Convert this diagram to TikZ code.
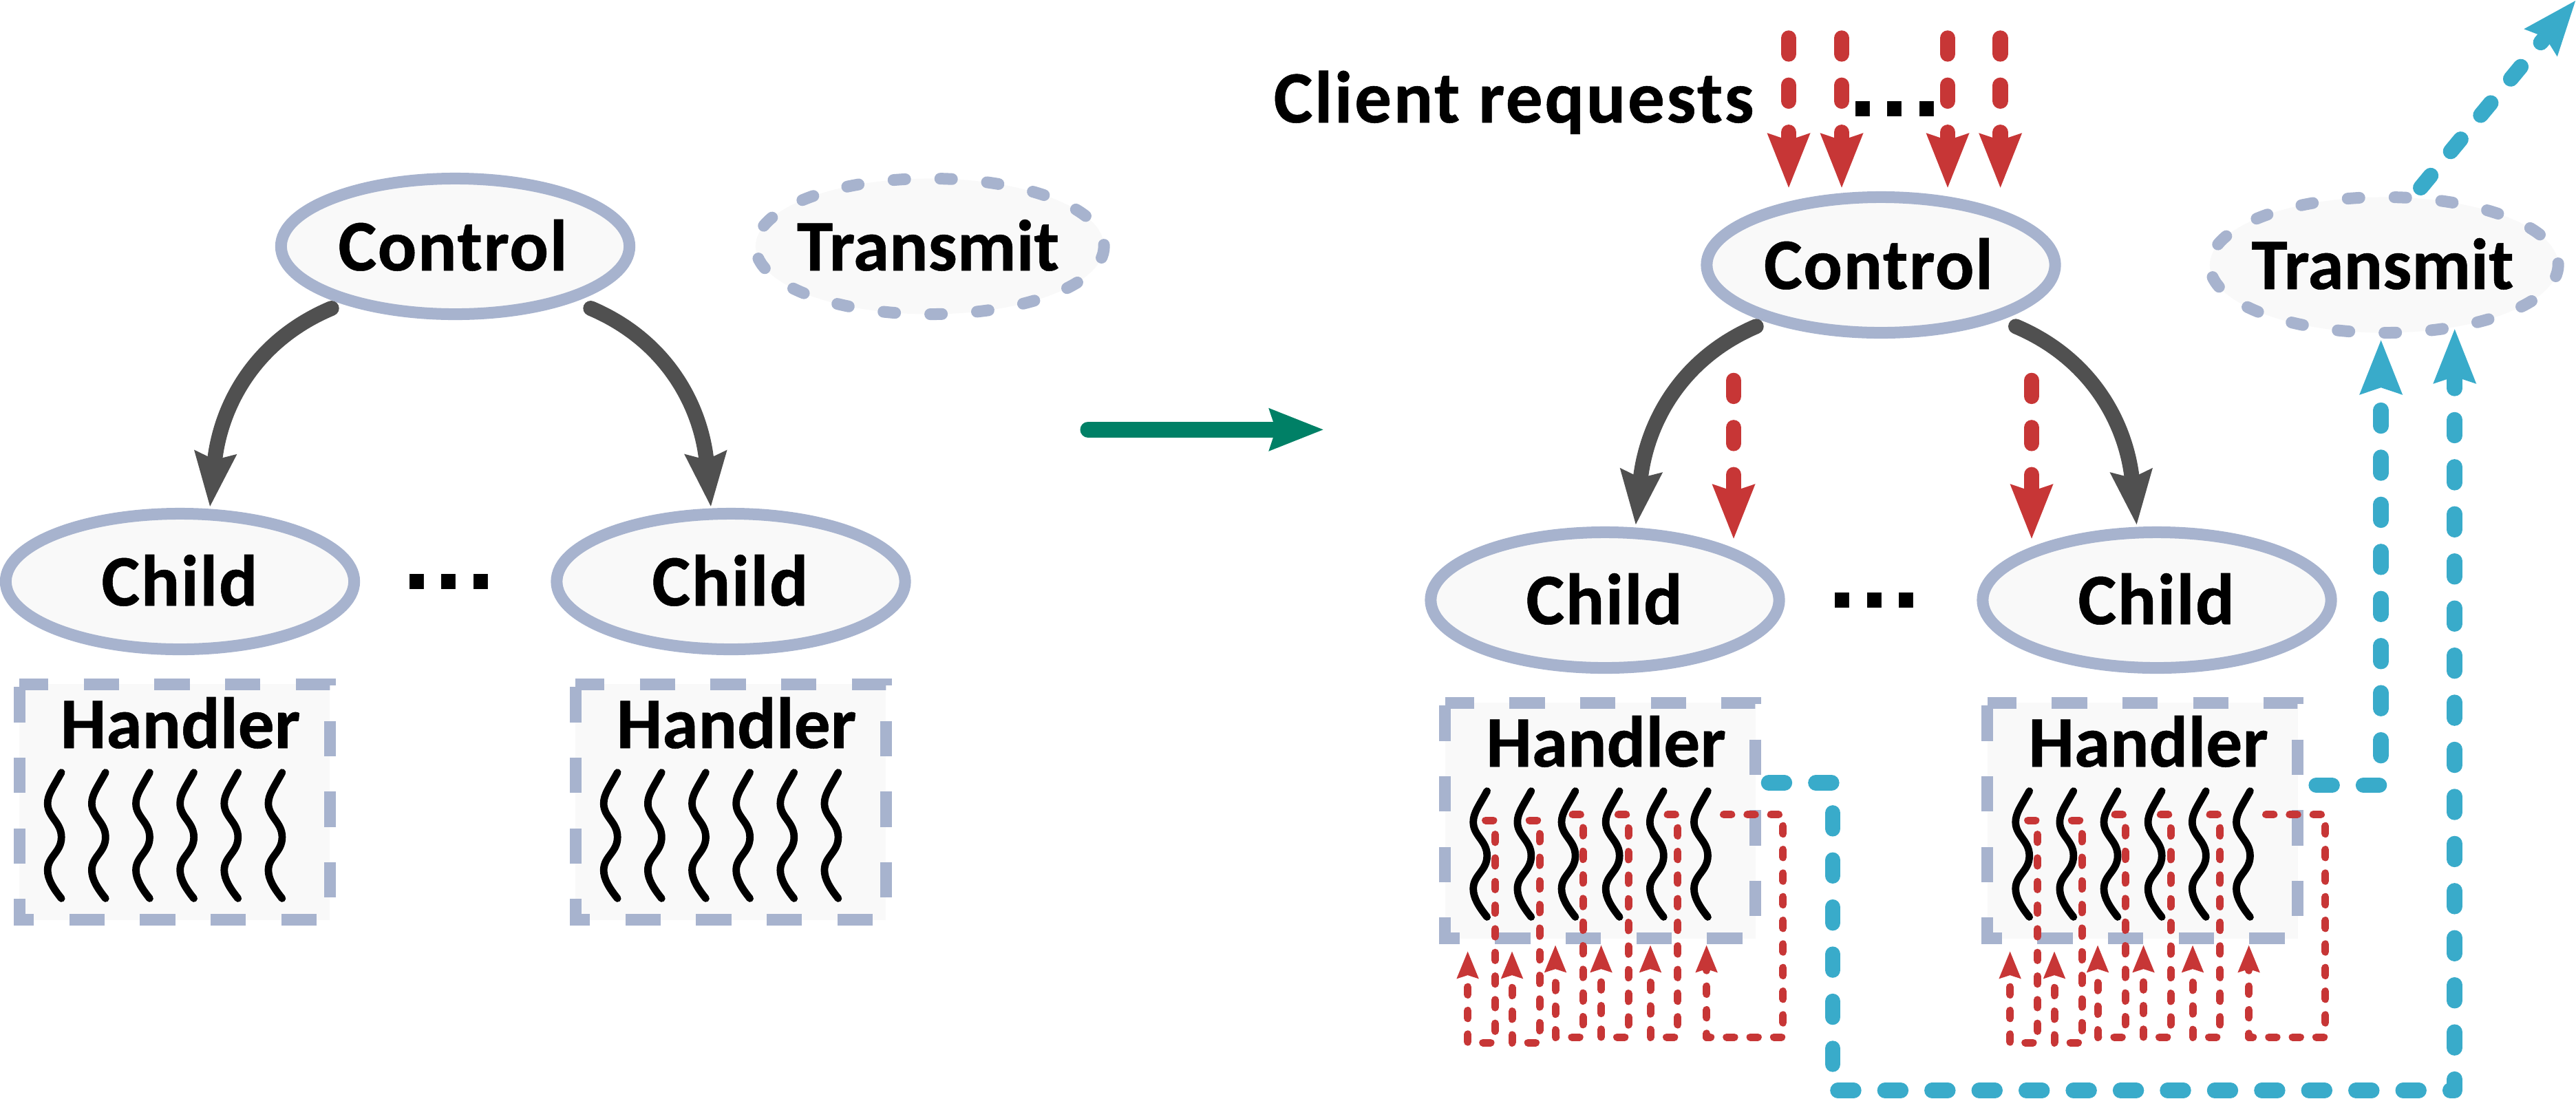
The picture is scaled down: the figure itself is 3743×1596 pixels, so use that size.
\documentclass[tikz,border=0pt]{standalone}
\usepackage{fontspec}
\setmainfont{Carlito}[BoldFeatures={FakeBold=0.5}]
\newfontfamily\dotsfont{Liberation Sans}
\usetikzlibrary{arrows.meta,shapes.geometric}
\definecolor{peri}{HTML}{A7B3CE}
\definecolor{paper}{HTML}{F9F9F9}
\definecolor{redl}{HTML}{C73636}
\definecolor{bluel}{HTML}{39ABCA}
\definecolor{grayl}{HTML}{505050}
\definecolor{greenl}{HTML}{008066}
\tikzset{
  lbl/.style={anchor=base,inner sep=0pt,outer sep=0pt,font=\fontsize{30}{36}\selectfont\bfseries},
  lblwide/.style={lbl,font=\fontsize{30}{36}\selectfont\bfseries\addfontfeature{LetterSpace=1.5}},
  lblclient/.style={lbl,font=\fontsize{30.5}{36}\selectfont\bfseries\addfontfeature{LetterSpace=2.5}},
  dotlbl/.style={anchor=base,inner sep=0pt,outer sep=0pt,font=\fontsize{42}{46}\selectfont\dotsfont\bfseries},
  solidell/.style={shape=ellipse,draw=peri,fill=paper,line width=.17cm,inner sep=0pt,outer sep=0pt,minimum width=5.06cm,minimum height=1.97cm},
  fillell/.style={shape=ellipse,fill=paper,inner sep=0pt,outer sep=0pt,minimum width=5.06cm,minimum height=1.97cm},
  elldash/.style={draw=peri,line width=.17cm,line cap=round,dash pattern=on .17cm off .51cm},
  hbox/.style={shape=rectangle,fill=paper,inner sep=0pt,outer sep=0pt,minimum width=4.505cm,minimum height=3.42cm},
  hdash/.style={draw=peri,line width=.17cm,dash pattern=on .513cm off .513cm,dash phase=.093cm},
  wavy/.style={draw=black,line width=.107cm,line cap=round},
  wavepic/.pic={\draw[wavy] (0,0) .. controls (-12,22) and (-20,32) .. (-20,45) .. controls (-20,65) and (0,72) .. (0,94) .. controls (0,116) and (-20,122) .. (-20,142) .. controls (-20,155) and (-12,168) .. (0,183);},
  grayarrow/.style={draw=grayl,line width=.22cm,line cap=round,-{Stealth[length=.78cm,width=.58cm,inset=.09cm]}},
  greenarrow/.style={draw=greenl,line width=.23cm,line cap=round,-{Stealth[length=.78cm,width=.58cm,inset=.08cm]}},
  redbig/.style={draw=redl,line width=.226cm,line cap=round,dash pattern=on .228cm off .456cm,-{Stealth[length=.78cm,width=.58cm,inset=.08cm]}},
  bluearrow/.style={draw=bluel,line width=.226cm,line cap=round,line join=round,dash pattern=on .228cm off .456cm,-{Stealth[length=.78cm,width=.58cm,inset=.08cm]}},
  redsmall/.style={draw=redl,line width=.11cm,line cap=round,line join=round,dash pattern=on .113cm off .23cm,-{Stealth[length=.39cm,width=.30cm,inset=.04cm]}},
}
\newcommand{\threedots}{.\kern.056cm.\kern.056cm.}
\begin{document}
\begin{tikzpicture}[x=.01cm,y=-.01cm]
\useasboundingbox (0,0) rectangle (3743,1596);

% ---------- left diagram ----------
\node[solidell] (ctlA) at (661.5,358) {};
\node[lblwide] (ctlAt) at (658,393) {Control};
\node[fillell] (trA) at (1351,358) {};
\draw[elldash] (trA.east) arc[start angle=0,end angle=-360,x radius=2.53cm,y radius=.985cm];
\node[lbl] (trAt) at (1348.5,393) {Transmit};
\node[solidell] (chA) at (261.5,845) {};
\node[lblwide] (chAt) at (261,880) {Child};
\node[solidell] (chB) at (1062,845) {};
\node[lblwide] (chBt) at (1061,880) {Child};
\node[dotlbl] (dotsA) at (652.5,856) {\threedots};

% ---------- right diagram ----------
\node[solidell] (ctlB) at (2733,385) {};
\node[lblwide] (ctlBt) at (2729.5,420) {Control};
\node[fillell] (trB) at (3464,385) {};
\draw[elldash] (trB.east) arc[start angle=0,end angle=-360,x radius=2.53cm,y radius=.985cm];
\node[lbl] (trBt) at (3462,420) {Transmit};
\node[solidell] (chC) at (2332,872) {};
\node[lblwide] (chCt) at (2331,907) {Child};
\node[solidell] (chD) at (3134,872) {};
\node[lblwide] (chDt) at (3133,907) {Child};
\node[dotlbl] (dotsB) at (2723.8,883) {\threedots};
\node[dotlbl] (dotsC) at (2753.5,169) {\threedots};
\node[lblclient] (client) at (2199.6,178) {Client requests};

% ---------- handler boxes ----------
\foreach \nm/\bx/\by in {hA/28.5/994.5,hB/836.5/994.5,hC/2100/1021.5,hD/2888/1021.5}{
  \node[hbox] (\nm) at ({\bx+225.25},{\by+171}) {};
  \draw[hdash] (\nm.north west) -- (\nm.north east) -- (\nm.south east) -- (\nm.south west) -- cycle;
  \node[lbl] (\nm t) at ({\bx+233.5},{\by+92.5}) {Handler};
  \foreach \k in {0,...,5}{
    \pic at ({\bx+60.7+64.15*\k},{\by+128}) {wavepic};
  }
}

% ---------- grey arrows ----------
\coordinate (gA1) at (481.7,448);
\coordinate (gA1e) at (305,737);
\coordinate (gA2) at (858.3,448);
\coordinate (gA2e) at (1033,737);
\coordinate (gB1) at (2551.7,474.3);
\coordinate (gB1e) at (2376.7,763.3);
\coordinate (gB2) at (2929,474.3);
\coordinate (gB2e) at (3104.7,763.3);
\draw[grayarrow] (gA1) .. controls (370,495) and (320,590) .. (gA1e);
\draw[grayarrow] (gA2) .. controls (969,495) and (1019,590) .. (gA2e);
\draw[grayarrow] (gB1) .. controls (2441.7,521.3) and (2391.7,616.3) .. (gB1e);
\draw[grayarrow] (gB2) .. controls (3040,521.3) and (3090,616.3) .. (gB2e);

% ---------- green arrow ----------
\coordinate (gs) at (1581,624.3);
\coordinate (ge) at (1924,624.3);
\draw[greenarrow] (gs) -- (ge);

% ---------- large red arrows ----------
\foreach \i/\x/\ya/\yb in {1/2599/55.5/274,2/2676/55.5/274,3/2830/55.5/274,4/2906.6/55.5/274,5/2519/553/784,6/2952/553/784}{
  \coordinate (rs\i) at (\x,\ya);
  \coordinate (re\i) at (\x,\yb);
  \draw[redbig] (rs\i) -- (re\i);
}

% ---------- small red loops ----------
\foreach \bx in {2100,2888}{
  \foreach \a/\b/\c/\yt/\yb/\yh in {58.6/72.4/32.6/1192/1515/1382,122.3/137/97/1192/1515/1382,185/200/160/1183.6/1507/1373,251.4/266/226.5/1183.6/1507/1373,323/337.8/298/1183.6/1507/1373,404.5/490.8/379.6/1183.6/1507/1373}{
    \coordinate (ls) at ({\bx+\a},\yt);
    \coordinate (le) at ({\bx+\c},\yh);
    \draw[redsmall] (ls) -- ({\bx+\b},\yt) -- ({\bx+\b},\yb) -- ({\bx+\c},\yb) -- (le);
  }
}

% ---------- blue arrows ----------
\coordinate (bs1) at (2570,1137.5);
\coordinate (be1) at (3566.7,477);
\coordinate (bs2) at (3365.7,1141);
\coordinate (be2) at (3459.6,493);
\coordinate (bs3) at (3517.3,272.7);
\coordinate (be3) at (3743,0);
\draw[bluearrow] (bs1) -- (2663,1137.5) -- (2663,1584.5) -- (3566.7,1584.5) -- (be1);
\draw[bluearrow] (bs2) -- (3459.6,1141) -- (be2);
\draw[bluearrow] (bs3) -- (be3);
\end{tikzpicture}
\end{document}
